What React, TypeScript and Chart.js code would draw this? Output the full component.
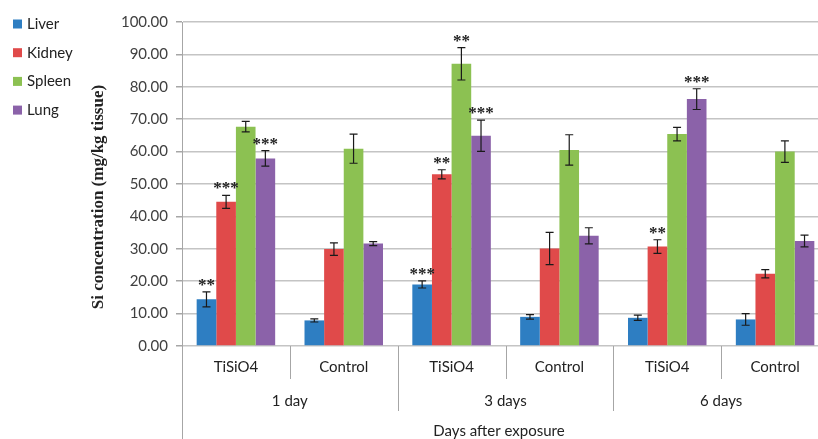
import React, { useEffect, useRef } from "react";
import { Chart, registerables } from "chart.js";

Chart.register(...registerables);

const groups = ["TiSiO4", "Control", "TiSiO4", "Control", "TiSiO4", "Control"];
const days = ["1 day", "3 days", "6 days"];
const yTicks = [0, 10, 20, 30, 40, 50, 60, 70, 80, 90, 100];

const seriesNames = ["Liver", "Kidney", "Spleen", "Lung"];
const liver = [14.4, 7.9, 19.0, 9.0, 8.7, 8.2];
const liverErr = [2.3, 0.5, 1.1, 0.7, 0.8, 1.8];
const kidney = [44.5, 29.9, 53.0, 30.1, 30.7, 22.3];
const kidneyErr = [2.0, 1.9, 1.4, 5.0, 2.1, 1.3];
const spleen = [67.7, 60.9, 87.1, 60.5, 65.4, 60.0];
const spleenErr = [1.6, 4.5, 5.0, 4.7, 2.1, 3.3];
const lung = [57.9, 31.6, 64.9, 34.0, 76.2, 32.4];
const lungErr = [2.4, 0.6, 4.8, 2.5, 3.2, 1.8];

const liverSig = ["**", "", "***", "", "", ""];
const kidneySig = ["***", "", "**", "", "**", ""];
const spleenSig = ["", "", "**", "", "", ""];
const lungSig = ["***", "", "***", "", "***", ""];

const colors = ["#2E7EC2", "#E04A4A", "#8CC152", "#8B62A9"];
const values = [liver, kidney, spleen, lung];
const errors = [liverErr, kidneyErr, spleenErr, lungErr];
const sigs = [liverSig, kidneySig, spleenSig, lungSig];

const W = 830;
const H = 439;
const TEXT = "#404040";

const overlay = {
  id: "overlay",
  afterDatasetsDraw(chart: any) {
    const ctx = chart.ctx;
    const y = chart.scales.y;
    ctx.save();
    ctx.strokeStyle = "#1a1a1a";
    ctx.lineWidth = 1.2;
    values.forEach((arr, d) => {
      const meta = chart.getDatasetMeta(d);
      arr.forEach((v, i) => {
        const bar = meta.data[i];
        const x = bar.x;
        const top = y.getPixelForValue(v + errors[d][i]);
        const bot = y.getPixelForValue(v - errors[d][i]);
        ctx.beginPath();
        ctx.moveTo(x, top);
        ctx.lineTo(x, bot);
        ctx.moveTo(x - 4, top);
        ctx.lineTo(x + 4, top);
        ctx.moveTo(x - 4, bot);
        ctx.lineTo(x + 4, bot);
        ctx.stroke();
        const s = sigs[d][i];
        if (s) {
          ctx.fillStyle = "#222";
          ctx.font = "bold 17px 'Liberation Serif'";
          ctx.textAlign = "center";
          ctx.textBaseline = "alphabetic";
          const n = s.length;
          for (let k = 0; k < n; k++) {
            const sx = x + (k - (n - 1) / 2) * 8.5;
            ctx.fillText("*", sx, top - 2);
          }
        }
      });
    });
    ctx.restore();
  },
  afterDraw(chart: any) {
    const ctx = chart.ctx;
    const xs = chart.scales.x;
    const area = chart.chartArea;
    ctx.save();
    const base = area.bottom;
    ctx.strokeStyle = "#a6a6a6";
    ctx.lineWidth = 1;
    ctx.beginPath();
    ctx.moveTo(area.left + 0.5, base);
    ctx.lineTo(area.left + 0.5, H);
    ctx.stroke();
    for (let i = 0; i < groups.length - 1; i++) {
      const bx = Math.round((xs.getPixelForValue(i) + xs.getPixelForValue(i + 1)) / 2) + 0.5;
      const dayDiv = i % 2 === 1;
      ctx.beginPath();
      ctx.moveTo(bx, base);
      ctx.lineTo(bx, dayDiv ? base + 65 : base + 33);
      ctx.stroke();
    }
    ctx.fillStyle = "#222";
    ctx.font = "15px Lato";
    ctx.textAlign = "center";
    ctx.textBaseline = "middle";
    groups.forEach((g, i) => {
      ctx.fillText(g, xs.getPixelForValue(i), base + 21);
    });
    days.forEach((d, j) => {
      const cx = (xs.getPixelForValue(2 * j) + xs.getPixelForValue(2 * j + 1)) / 2;
      ctx.fillText(d, cx, base + 55);
    });
    ctx.fillText("Days after exposure", 499, base + 85);
    ctx.save();
    ctx.translate(99, 197);
    ctx.rotate(-Math.PI / 2);
    ctx.font = "bold 17px 'Liberation Serif'";
    ctx.fillStyle = "#222";
    ctx.fillText("Si concentration (mg/kg tissue)", 0, 0);
    ctx.restore();
    seriesNames.forEach((name, k) => {
      const cy = 24 + k * 28.7;
      ctx.fillStyle = colors[k];
      ctx.fillRect(13, cy - 4.5, 9, 9);
      ctx.fillStyle = "#222";
      ctx.textAlign = "left";
      ctx.font = "15px Lato";
      ctx.fillText(name, 27, cy);
    });
    ctx.restore();
  },
};

export default function App() {
  const ref = useRef<HTMLCanvasElement | null>(null);
  useEffect(() => {
    if (!ref.current) return;
    const chart = new Chart(ref.current, {
      type: "bar",
      data: {
        labels: groups,
        datasets: seriesNames.map((n, k) => ({
          label: n,
          data: values[k],
          backgroundColor: colors[k],
          borderWidth: 0,
          categoryPercentage: 0.728,
          barPercentage: 1,
        })),
      },
      options: {
        responsive: false,
        animation: false,
        layout: { padding: { left: 0, right: 1, top: 22, bottom: 93 } },
        plugins: {
          legend: { display: false },
          tooltip: { enabled: false },
        },
        scales: {
          x: {
            display: false,
          },
          y: {
            min: 0,
            max: 100,
            afterFit: (s: any) => {
              s.width = 182;
            },
            afterBuildTicks: (s: any) => {
              s.ticks = yTicks.map((v) => ({ value: v }));
            },
            ticks: {
              padding: 8,
              color: TEXT,
              font: { family: "Lato", size: 15 },
              callback: (v: any) => Number(v).toFixed(2),
            },
            grid: {
              color: "#c4c4c4",
              lineWidth: 1.5,
              tickLength: 6,
              tickColor: "#a6a6a6",
            },
            border: { color: "#a6a6a6", width: 1 },
          },
        },
      },
      plugins: [overlay],
    });
    return () => chart.destroy();
  }, []);
  return (
    <div
      style={{
        position: "fixed",
        left: 0,
        top: 0,
        width: 818,
        height: 439,
        overflow: "hidden",
        background: "#fff",
      }}
    >
      <canvas ref={ref} width={W} height={H} style={{ width: W, height: H, display: "block" }} />
    </div>
  );
}
